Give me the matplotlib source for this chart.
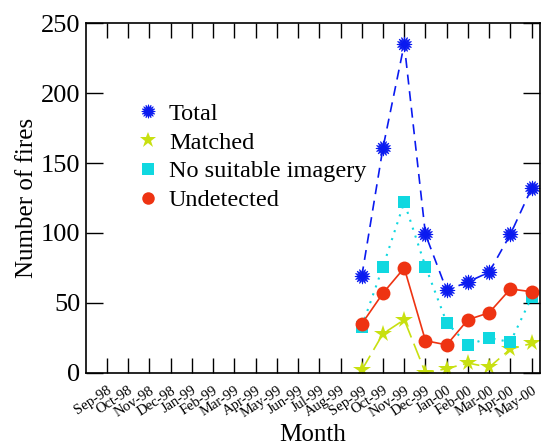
import numpy as np
import matplotlib
matplotlib.use('Agg')
import matplotlib.pyplot as plt

plt.rcParams['font.family'] = ['Liberation Serif', 'DejaVu Serif']

months = ['Sep-98', 'Oct-98', 'Nov-98', 'Dec-98', 'Jan-99', 'Feb-99', 'Mar-99',
          'Apr-99', 'May-99', 'Jun-99', 'Jul-99', 'Aug-99', 'Sep-99', 'Oct-99',
          'Nov-99', 'Dec-99', 'Jan-00', 'Feb-00', 'Mar-00', 'Apr-00', 'May-00']
data_months = ['Sep-99', 'Oct-99', 'Nov-99', 'Dec-99', 'Jan-00', 'Feb-00',
               'Mar-00', 'Apr-00', 'May-00']
total = [69, 161, 235, 99, 59, 65, 72, 99, 132]
matched = [2, 28, 38, 0, 3, 7, 4, 17, 21]
no_imagery = [33, 76, 122, 76, 36, 20, 25, 22, 54]
undetected = [35, 57, 75, 23, 20, 38, 43, 60, 58]

x = [months.index(m) for m in data_months]

fig = plt.figure(figsize=(5.5, 4.46), dpi=100)
ax = fig.add_axes([0.156, 0.164, 0.826, 0.784])

ax.plot(x, total, color='#0a1af0', linestyle=(0, (6, 4)), lw=1.2,
        marker=(16, 1, 0), markersize=11, markeredgewidth=0.6, label='Total')
ax.plot(x, matched, color='#c8e010', linestyle=(0, (10, 4)), lw=1.2,
        marker='*', markersize=13, markeredgewidth=0, label='Matched')
ax.plot(x, no_imagery, color='#10d8e0', linestyle=(0, (1, 3)), lw=1.5,
        marker='s', markersize=9, markeredgewidth=0, label='No suitable imagery')
ax.plot(x, undetected, color='#ee3312', linestyle='-', lw=1.2,
        marker='o', markersize=10, markeredgewidth=0, label='Undetected')

ax.set_xlim(-1, 20.4)
ax.set_ylim(0, 250)
ax.set_xticks(range(len(months)))
ax.set_xticklabels(months, rotation=33, ha='right', fontsize=10.5,
                   rotation_mode='anchor')
ax.set_yticks(np.arange(0, 251, 50))
ax.tick_params(axis='y', labelsize=19, direction='in', length=12, width=1,
               left=True, right=True, pad=4)
ax.tick_params(axis='x', direction='in', length=11, width=1,
               top=True, bottom=True, pad=8)
for s in ax.spines.values():
    s.set_linewidth(1.2)

ax.set_xlabel('Month', fontsize=18, labelpad=3)
ax.set_ylabel('Number of fires', fontsize=18, labelpad=2)

leg = ax.legend(loc='upper left', bbox_to_anchor=(0.1, 0.8), frameon=False,
                fontsize=17.5, handlelength=0.6, handletextpad=0.55,
                labelspacing=0.28, borderaxespad=0, markerscale=0.9)
for h in leg.get_lines():
    h.set_linestyle('None')

fig.savefig('out.png', dpi=100)
